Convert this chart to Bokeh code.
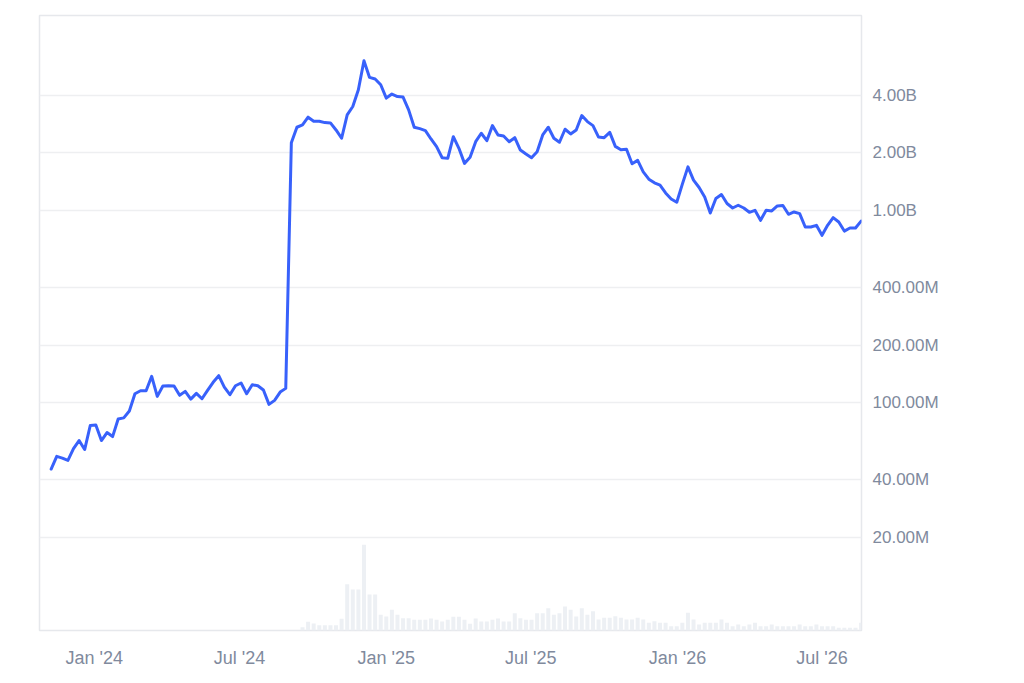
import pandas as pd
from bokeh.plotting import figure
from bokeh.models import Range1d, FixedTicker, CustomJSTickFormatter, ColumnDataSource, LinearScale
from bokeh.embed import file_html
from bokeh.resources import INLINE

# ---- data (weekly) ----
start_date = "2023-11-08"

# market cap, millions USD
market_cap_m = [
    45.2, 52.6, 51.5, 50.1, 57.7, 63.6, 57.1, 76.2, 76.7, 63.6,
    70.0, 66.7, 82.4, 83.5, 90.6, 111.5, 115.6, 115.6, 137.4, 108.0,
    122.3, 122.7, 122.3, 109.4, 114.7, 104.5, 112.0, 105.0, 116.1, 127.9,
    138.4, 120.8, 110.2, 122.7, 126.8, 111.5, 124.2, 122.7, 116.6, 98.1,
    103.0, 113.7, 118.9,
    2263, 2723, 2800, 3073, 2928, 2928, 2879, 2869, 2636, 2386,
    3160, 3491, 4267, 6051, 4950, 4856, 4533, 3863, 4053, 3937,
    3909, 3355, 2723, 2678, 2615, 2366, 2157, 1889, 1875, 2432,
    2115, 1766, 1898, 2290,
    2534, 2318, 2777, 2482, 2453, 2290, 2403, 2072, 1975, 1889,
    2030, 2482, 2723, 2386, 2274, 2659, 2512, 2636, 3133, 2914,
    2777, 2420, 2403, 2560, 2165, 2080, 2093, 1758, 1830,
    1596, 1461, 1398, 1360, 1239, 1153, 1108, 1376, 1694, 1444,
    1322, 1181, 974, 1158, 1215, 1091, 1034, 1069, 1034, 982,
    1006, 892, 1006, 998, 1060, 1065, 959, 986, 967, 823,
    823, 840, 745, 840, 921, 874, 784, 813, 813, 884,
]

# volume, millions USD
volume_m = [0] * 45 + [
    33, 87, 70, 53, 53, 53, 53, 117, 463, 410,
    410, 857, 360, 360, 157, 140, 207, 157, 123, 123,
    107, 107, 107, 120, 107, 90, 107, 137, 137, 107,
    67, 120, 90, 90, 107, 120, 90, 90, 173, 123,
    107, 107, 173, 173, 223, 157, 173, 240, 207, 140,
    223, 157,
    193, 110, 127, 127, 143, 127, 110, 110, 127, 110,
    77, 93, 77, 77, 43, 43, 77, 177, 110, 60,
    77, 77, 77, 110, 77, 43, 60, 43, 60, 77,
    43, 43, 60, 43, 43, 43, 43, 60, 43, 43,
    60, 43, 43, 43, 27, 27, 27, 27, 77,
]

y_tick_values = [2e7, 4e7, 1e8, 2e8, 4e8, 1e9, 2e9, 4e9]
x_tick_dates = ["2024-01-01", "2024-07-01", "2025-01-01", "2025-07-01", "2026-01-01", "2026-07-01"]

# ---- build ----
dates = pd.date_range(start=start_date, periods=len(market_cap_m), freq="7D")
src = ColumnDataSource(dict(
    date=dates,
    cap=[v * 1e6 for v in market_cap_m],
    vol=volume_m,
))

day = pd.Timedelta(days=1)
x_start = dates[0] - 14.6 * day
x_end = dates[-1] + 0.5 * day

p = figure(
    width=1000, height=676,
    x_axis_type="datetime", y_axis_type="log",
    y_axis_location="right",
    x_range=Range1d(x_start, x_end),
    y_range=Range1d(6.52e6, 1.04e10),
    output_backend="svg", toolbar_location=None,
    min_border_left=39, min_border_top=15, min_border_right=139, min_border_bottom=46,
)
p.background_fill_color = "white"
p.border_fill_color = "white"
p.outline_line_color = "#e6e8ec"
p.outline_line_width = 1.5

p.extra_y_ranges = {"vol": Range1d(0, 6150)}
p.extra_y_scales = {"vol": LinearScale()}
p.vbar(x="date", top="vol", bottom=0, width=5 * 24 * 3600 * 1000, source=src,
       y_range_name="vol", fill_color="#edf0f4", line_color=None)

p.line(x="date", y="cap", source=src, line_color="#3861FB", line_width=3,
       line_join="round", line_cap="round")

# y axis
ya = p.yaxis[0]
ya.ticker = FixedTicker(ticks=y_tick_values, minor_ticks=[])
ya.formatter = CustomJSTickFormatter(code="""
    if (tick >= 1e9) { return (tick/1e9).toFixed(2) + 'B'; }
    return (tick/1e6).toFixed(2) + 'M';
""")
ya.axis_line_color = None
ya.major_tick_line_color = None
ya.minor_tick_line_color = None
ya.major_label_standoff = 5
ya.major_label_text_font = "Liberation Sans"
ya.major_label_text_font_size = "17px"
ya.major_label_text_color = "#808A9D"

# x axis
xa = p.xaxis[0]
xa.ticker = FixedTicker(ticks=[pd.Timestamp(d).value / 1e6 for d in x_tick_dates])
xa.formatter = CustomJSTickFormatter(code="""
    const d = new Date(tick);
    const m = ['Jan','Feb','Mar','Apr','May','Jun','Jul','Aug','Sep','Oct','Nov','Dec'][d.getUTCMonth()];
    return m + " '" + String(d.getUTCFullYear()).slice(2);
""")
xa.axis_line_color = None
xa.major_tick_line_color = None
xa.minor_tick_line_color = None
xa.major_label_standoff = 11
xa.major_label_text_font = "Liberation Sans"
xa.major_label_text_font_size = "18px"
xa.major_label_text_color = "#808A9D"

p.xgrid.visible = False
p.ygrid.grid_line_color = "#eeeff1"
p.ygrid.grid_line_width = 1.5

open("out.html", "w").write(file_html(p, INLINE))
